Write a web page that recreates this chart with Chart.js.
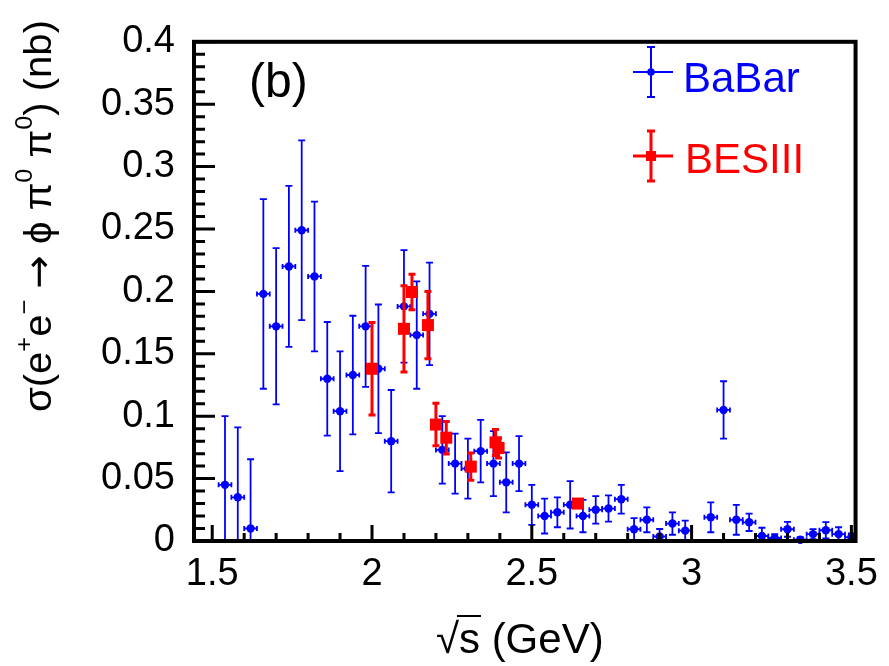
<!DOCTYPE html>
<html>
<head>
<meta charset="utf-8">
<script src="https://cdn.jsdelivr.net/npm/chart.js@4/dist/chart.umd.min.js"></script>
<style>
  html, body { margin: 0; padding: 0; background: #fff; }
  #wrap { width: 889px; height: 666px; }
</style>
</head>
<body>
<div id="wrap"><canvas id="chart" width="889" height="666"></canvas></div>
<script>
// BaBar points: sqrt(s) in GeV, cross section in nb, symmetric stat. error
const babarX = [1.54, 1.58, 1.62, 1.66, 1.70, 1.74, 1.78, 1.82, 1.86, 1.90,
  1.94, 1.98, 2.02, 2.06, 2.10, 2.14, 2.18, 2.22, 2.26, 2.30,
  2.34, 2.38, 2.42, 2.46, 2.50, 2.54, 2.58, 2.62, 2.66, 2.70,
  2.74, 2.78, 2.82, 2.86, 2.90, 2.94, 2.98, 3.06, 3.10, 3.14,
  3.18, 3.22, 3.26, 3.30, 3.34, 3.38, 3.42, 3.46, 3.50];
const babarY = [0.045, 0.035, 0.010, 0.198, 0.172, 0.220, 0.249, 0.212, 0.130, 0.104,
  0.133, 0.172, 0.138, 0.080, 0.188, 0.165, 0.182, 0.073, 0.062, 0.058,
  0.072, 0.062, 0.047, 0.062, 0.029, 0.020, 0.023, 0.029, 0.020, 0.025,
  0.026, 0.0335, 0.0094, 0.017, 0.0036, 0.014, 0.0083, 0.019, 0.105, 0.017,
  0.015, 0.004, 0.0024, 0.0094, 0.001, 0.0055, 0.0086, 0.0055, 0.003];
const babarErr = [0.055, 0.056, 0.0555, 0.076, 0.0626, 0.0645, 0.072, 0.060, 0.0455, 0.048,
  0.0475, 0.0485, 0.0515, 0.041, 0.045, 0.043, 0.041, 0.027, 0.024, 0.024,
  0.025, 0.026, 0.024, 0.022, 0.016, 0.014, 0.012, 0.019, 0.013, 0.011,
  0.0105, 0.0115, 0.009, 0.010, 0.006, 0.009, 0.008, 0.012, 0.023, 0.012,
  0.007, 0.0066, 0.003, 0.006, 0.002, 0.004, 0.0066, 0.0055, 0.003];
const babarHalfBin = 0.02;

// BESIII points
const besX = [2.000, 2.100, 2.125, 2.175, 2.200, 2.2324, 2.309, 2.3864, 2.396, 2.6444];
const besY = [0.138, 0.170, 0.1995, 0.173, 0.0933, 0.0828, 0.0596, 0.079, 0.0745, 0.030];
const besErr = [0.037, 0.0345, 0.0142, 0.027, 0.017, 0.013, 0.011, 0.0104, 0.008, 0.003];

const xMin = 1.443, xMax = 3.513;
const yMin = 0, yMax = 0.4;
const xMajor = [1.5, 2, 2.5, 3, 3.5];
const yMajor = [0, 0.05, 0.1, 0.15, 0.2, 0.25, 0.3, 0.35, 0.4];

const FONT = "'Liberation Sans', Arial, Helvetica, sans-serif";
const SYMFONT = "'DejaVu Sans', sans-serif";
const BLUE = '#0000ff';
const RED = '#ff0000';

function toPoints(xs, ys) {
  return xs.map((x, i) => ({ x: x, y: ys[i] }));
}

// error bars drawn before each dataset so markers sit on top
const errorBars = {
  id: 'errorBars',
  beforeDatasetDraw(chart, args) {
    const ds = chart.data.datasets[args.index];
    const xs = chart.scales.x, ys = chart.scales.y;
    const area = chart.chartArea;
    const ctx = chart.ctx;
    ctx.save();
    ctx.beginPath();
    ctx.rect(area.left, area.top, area.right - area.left, area.bottom - area.top);
    ctx.clip();
    ctx.strokeStyle = ds.errColor;
    ctx.lineWidth = ds.errWidth;
    ds.data.forEach((p, i) => {
      const e = ds.errors[i];
      const px = xs.getPixelForValue(p.x);
      const py = ys.getPixelForValue(p.y);
      const top = ys.getPixelForValue(p.y + e);
      const bot = ys.getPixelForValue(p.y - e);
      ctx.beginPath();
      ctx.moveTo(px, top); ctx.lineTo(px, bot);
      ctx.moveTo(px - 3.5, top); ctx.lineTo(px + 3.5, top);
      ctx.moveTo(px - 3.5, bot); ctx.lineTo(px + 3.5, bot);
      if (ds.halfBin) {
        const l = xs.getPixelForValue(p.x - ds.halfBin);
        const r = xs.getPixelForValue(p.x + ds.halfBin);
        ctx.moveTo(l, py); ctx.lineTo(r, py);
        ctx.moveTo(l, py - 2.5); ctx.lineTo(l, py + 2.5);
        ctx.moveTo(r, py - 2.5); ctx.lineTo(r, py + 2.5);
      }
      ctx.stroke();
    });
    ctx.restore();
  }
};

// ROOT style frame, inward ticks, titles, legend and panel label
const decorations = {
  id: 'decorations',
  afterDraw(chart) {
    const ctx = chart.ctx;
    const a = chart.chartArea;
    const xs = chart.scales.x, ys = chart.scales.y;
    ctx.save();
    ctx.strokeStyle = '#000';

    // ticks
    ctx.lineWidth = 3;
    ctx.beginPath();
    for (let k = 15; k <= 35; k++) {
      const px = xs.getPixelForValue(k / 10);
      const len = (k % 5 === 0) ? 16 : 8;
      ctx.moveTo(px, a.bottom); ctx.lineTo(px, a.bottom - len);
    }
    for (let k = 0; k <= 40; k++) {
      const py = ys.getPixelForValue(k / 100);
      const len = (k % 5 === 0) ? 21 : 11;
      ctx.moveTo(a.left, py); ctx.lineTo(a.left + len, py);
    }
    ctx.stroke();

    // frame
    ctx.lineWidth = 4;
    ctx.strokeRect(a.left, a.top, a.right - a.left, a.bottom - a.top);

    // panel label
    ctx.fillStyle = '#000';
    ctx.font = '48px ' + FONT;
    ctx.textAlign = 'left';
    ctx.textBaseline = 'alphabetic';
    ctx.fillText('(b)', 249, 97);

    // x title
    ctx.font = '42px ' + FONT;
    const xt = '\u221As (GeV)';
    const w = ctx.measureText(xt).width;
    const x0 = (a.left + a.right) / 2 - w / 2 - 5;
    ctx.fillText(xt, x0, 653);
    const wr = ctx.measureText('\u221A').width;
    const ws = ctx.measureText('s').width;
    ctx.lineWidth = 2;
    ctx.beginPath();
    ctx.moveTo(x0 + wr - 2, 616); ctx.lineTo(x0 + wr + ws + 1, 616);
    ctx.stroke();

    // y title, rotated, ending at the top of the axis
    const main = 38, sup = 24;
    const segs = [['\u03C3(e', 0], ['+', 1], ['e', 0], ['\u2212', 1], [' ', 0], ['\u2192', 2],
      [' \u03D5', 0], [' \u03C0', 0], ['0', 1], [' \u03C0', 0], ['0', 1], [') (nb)', 0]];
    const fontOf = s => s[1] === 1 ? sup + 'px ' + FONT : (s[1] === 2 ? '38px ' + SYMFONT : main + 'px ' + FONT);
    let total = 0;
    segs.forEach(s => {
      ctx.font = fontOf(s);
      total += ctx.measureText(s[0]).width;
    });
    const stretch = 392 / total;
    ctx.translate(51, 20);
    ctx.rotate(-Math.PI / 2);
    ctx.scale(stretch, 1);
    let cx = -total;
    segs.forEach(s => {
      ctx.font = fontOf(s);
      ctx.fillText(s[0], cx, s[1] === 1 ? -19 : 0);
      cx += ctx.measureText(s[0]).width;
    });
    ctx.restore();

    // legend
    ctx.save();
    ctx.lineWidth = 2;
    ctx.strokeStyle = BLUE;
    ctx.fillStyle = BLUE;
    ctx.beginPath();
    ctx.moveTo(651, 47); ctx.lineTo(651, 97);
    ctx.moveTo(647, 47); ctx.lineTo(655, 47);
    ctx.moveTo(647, 97); ctx.lineTo(655, 97);
    ctx.moveTo(633, 72); ctx.lineTo(673, 72);
    ctx.stroke();
    ctx.beginPath();
    ctx.arc(651, 72, 3.8, 0, Math.PI * 2);
    ctx.fill();
    ctx.font = '42px ' + FONT;
    ctx.fillText('BaBar', 683, 92);

    ctx.strokeStyle = RED;
    ctx.fillStyle = RED;
    ctx.lineWidth = 3;
    ctx.beginPath();
    ctx.moveTo(651, 131); ctx.lineTo(651, 181);
    ctx.moveTo(647, 131); ctx.lineTo(655, 131);
    ctx.moveTo(647, 181); ctx.lineTo(655, 181);
    ctx.moveTo(633, 156); ctx.lineTo(673, 156);
    ctx.stroke();
    ctx.fillRect(646, 151, 10, 10);
    ctx.fillText('BESIII', 685, 173);
    ctx.restore();
  }
};

new Chart(document.getElementById('chart'), {
  type: 'scatter',
  data: {
    datasets: [
      {
        label: 'BESIII',
        data: toPoints(besX, besY),
        errors: besErr,
        errColor: RED,
        errWidth: 3,
        halfBin: 0,
        pointStyle: 'rect',
        pointRadius: 8.5,
        backgroundColor: RED,
        borderWidth: 0,
        order: 0
      },
      {
        label: 'BaBar',
        data: toPoints(babarX, babarY),
        errors: babarErr,
        errColor: BLUE,
        errWidth: 1.8,
        halfBin: babarHalfBin,
        pointStyle: 'circle',
        pointRadius: 4.2,
        backgroundColor: BLUE,
        borderWidth: 0,
        order: 1
      }
    ]
  },
  options: {
    responsive: false,
    animation: false,
    clip: false,
    layout: { padding: { top: 25, right: 31, left: 0, bottom: 0 } },
    plugins: {
      legend: { display: false },
      tooltip: { enabled: false }
    },
    scales: {
      x: {
        type: 'linear',
        min: xMin,
        max: xMax,
        grid: { display: false, drawTicks: false },
        border: { display: false },
        afterBuildTicks: s => { s.ticks = xMajor.map(v => ({ value: v })); },
        afterFit: s => { s.height = 125; },
        ticks: {
          color: '#000',
          padding: 11,
          maxRotation: 0,
          autoSkip: false,
          font: { family: FONT, size: 38 },
          callback: v => String(v)
        }
      },
      y: {
        type: 'linear',
        min: yMin,
        max: yMax,
        grid: { display: false, drawTicks: false },
        border: { display: false },
        afterBuildTicks: s => { s.ticks = yMajor.map(v => ({ value: v })); },
        afterFit: s => { s.width = 194; },
        ticks: {
          color: '#000',
          padding: 19,
          autoSkip: false,
          font: { family: FONT, size: 38 },
          callback: v => String(v)
        }
      }
    }
  },
  plugins: [errorBars, decorations]
});
</script>
</body>
</html>
